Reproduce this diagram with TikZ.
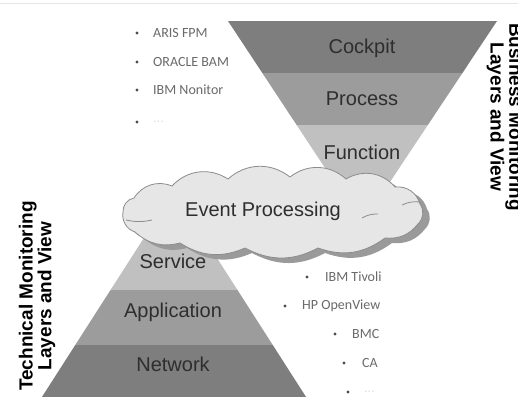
\documentclass[tikz,border=0pt]{standalone}
\usepackage{fontspec}
\setmainfont{Liberation Sans}
\newfontfamily\listfont{Carlito}
\definecolor{bandDark}{HTML}{7E7E7E}
\definecolor{bandMid}{HTML}{9C9C9C}
\definecolor{bandLight}{HTML}{C0C0C0}
\definecolor{cloudFill}{HTML}{E6E6E6}
\definecolor{cloudEdge}{HTML}{8C8C8C}
\definecolor{cloudShadow}{HTML}{9A9A9A}
\definecolor{listText}{HTML}{6A6A6A}
\definecolor{listFaint}{HTML}{E2E2E2}
\begin{document}
\begin{tikzpicture}[x=1pt,y=-1pt,
  layer/.style={font=\fontsize{20}{24}\selectfont, text=black!82, inner sep=0pt},
  item/.style={font=\listfont\fontsize{14}{16}\selectfont, text=listText, anchor=west, inner sep=0pt},
  faint/.style={item, text=listFaint},
  dot/.style={circle, fill=black!70, inner sep=0pt, minimum size=3.4pt},
  side/.style={font=\bfseries\fontsize{19}{16}\selectfont, align=center, inner sep=0pt, text=black},
  puff/.style={bend left=40},
  flat/.style={bend left=28}
]
\useasboundingbox (0,0) rectangle (518,396);
\fill[white] (0,0) rectangle (518,396);
\draw[black!10, line width=1pt] (0,4) -- (518,4);

% business monitoring funnel
\begin{scope}
  \clip (228,21) -- (497,21) -- (362,224) -- cycle;
  \fill[bandDark]  (200,21)  rectangle (520,73);
  \fill[bandMid]   (200,73)  rectangle (520,125);
  \fill[bandLight] (200,125) rectangle (520,230);
\end{scope}

% technical monitoring pyramid
\begin{scope}
  \clip (174,191) -- (308,400) -- (40,400) -- cycle;
  \fill[bandLight] (0,185) rectangle (330,290);
  \fill[bandMid]   (0,290) rectangle (330,345);
  \fill[bandDark]  (0,345) rectangle (330,400);
\end{scope}

% event processing cloud with its shadow
\foreach \dx/\dy/\col/\edge in {7/5/cloudShadow/none, 0/0/cloudFill/cloudEdge}{
  \filldraw[fill=\col, draw=\edge, line width=0.8pt, shift={(\dx,\dy)}]
    (123,212) to[puff] (134,198) to[puff] (172,186)
    to[puff] (228,179) to[puff] (290,177)
    to[puff] (346,179) to[puff] (395,187)
    to[puff] (420,204) to[puff] (418,224)
    to[flat] (385,238) to[flat] (318,248)
    to[flat] (245,248) to[flat] (180,243)
    to[flat] (135,232) to[puff] cycle;
}
\draw[cloudEdge, line width=0.8pt] (126,220) to[bend right=12] (152,220);
\draw[cloudEdge, line width=0.8pt] (362,218) to[bend left=15] (378,214);
\draw[cloudEdge, line width=0.8pt] (402,205) to[bend left=15] (420,202);

% layer labels
\node[layer] (cockpit)     at (362,48)  {Cockpit};
\node[layer] (process)     at (362,99)  {Process};
\node[layer] (function)    at (362,152) {Function};
\node[layer] (event)       at (263,211) {Event Processing};
\node[layer] (service)     at (173,261) {Service};
\node[layer] (application) at (173,312) {Application};
\node[layer] (network)     at (173,364) {Network};

% business tools
\node[dot] (b1) at (137,33)  {};
\node[item] (aris)   at (153,33)  {ARIS FPM};
\node[dot] (b2) at (137,62)  {};
\node[item] (oracle) at (153,62)  {ORACLE BAM};
\node[dot] (b3) at (137,90)  {};
\node[item] (ibmmon) at (153,90)  {IBM Nonitor};
\node[dot] (b4) at (137,122) {};
\node[faint] (bmore) at (153,122) {...};

% technical tools
\node[dot] (t1) at (307,277) {};
\node[item] (tivoli) at (325,277) {IBM Tivoli};
\node[dot] (t2) at (285,306) {};
\node[item] (hpov)   at (302,306) {HP OpenView};
\node[dot] (t3) at (335,334) {};
\node[item] (bmc)    at (352,334) {BMC};
\node[dot] (t4) at (344,363) {};
\node[item] (ca)     at (362,363) {CA};
\node[dot] (t5) at (348,392) {};
\node[faint] (tmore) at (364,392) {...};

% side captions
\node[side, rotate=90]  (techview) at (37,296) {Technical Monitoring\\Layers and View};
\node[side, rotate=-90] (busview)  at (505,117) {Business Monitoring\\Layers and View};
\end{tikzpicture}
\end{document}
